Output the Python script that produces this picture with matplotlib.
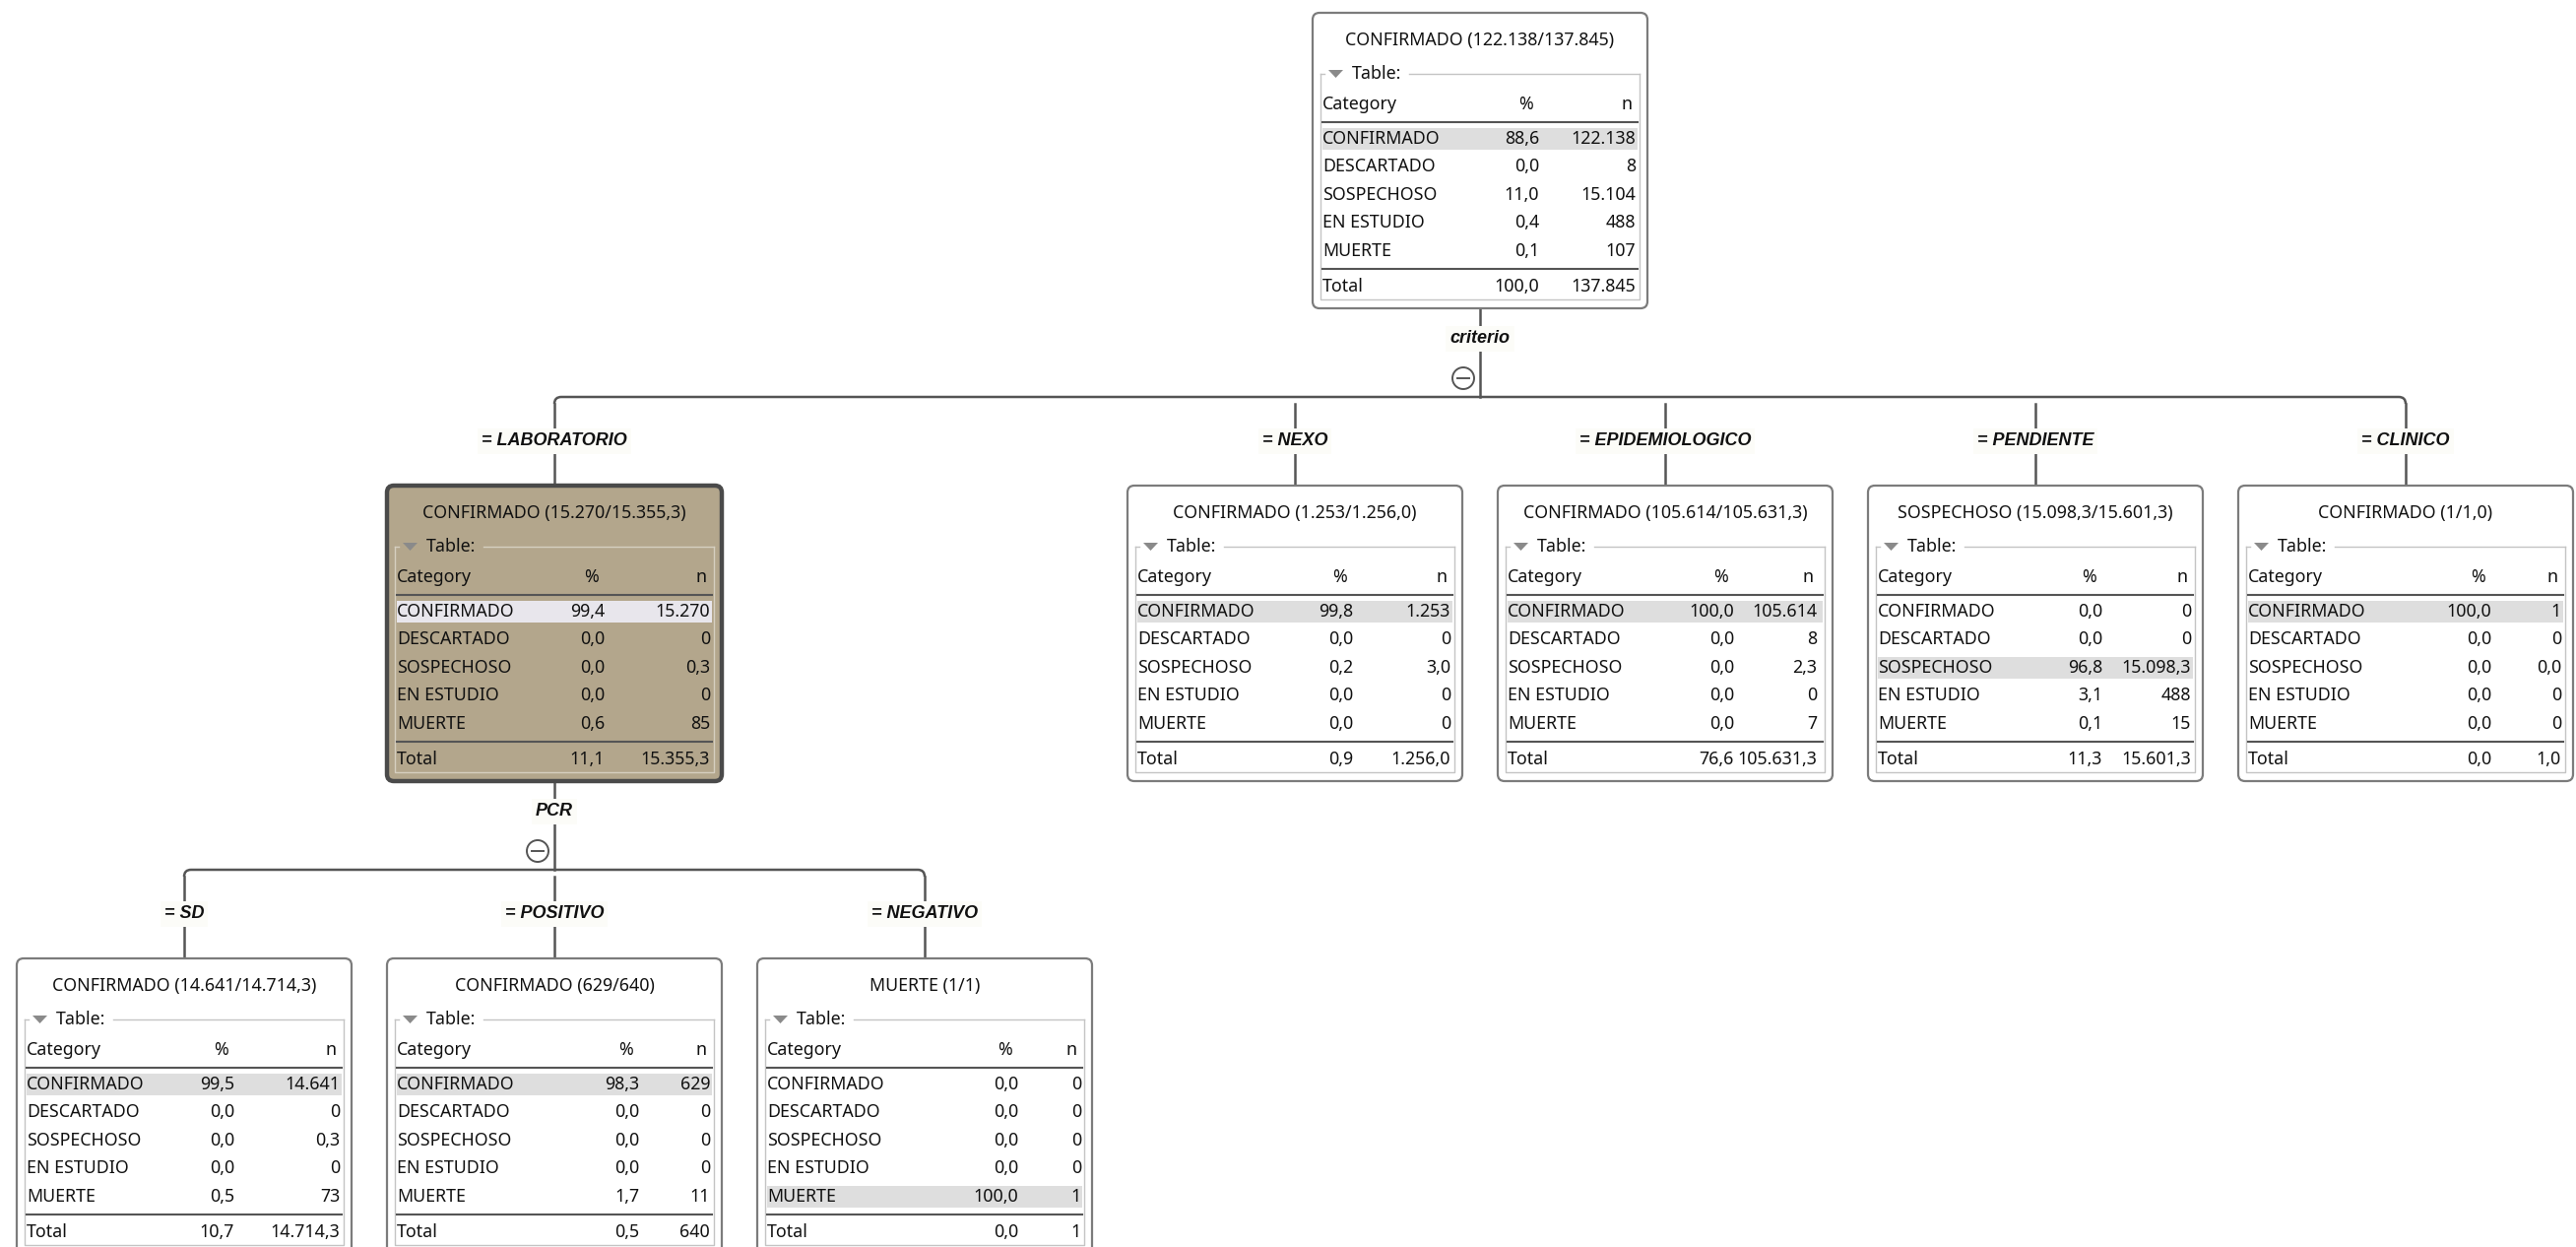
import matplotlib.pyplot as plt
from matplotlib.patches import FancyBboxPatch, Rectangle, Circle, Polygon, PathPatch
from matplotlib.path import Path

# Tree data (KNIME decision tree view)
categories = ['CONFIRMADO', 'DESCARTADO', 'SOSPECHOSO', 'EN ESTUDIO', 'MUERTE']

node_titles = [
    'CONFIRMADO (122.138/137.845)',
    'CONFIRMADO (15.270/15.355,3)',
    'CONFIRMADO (1.253/1.256,0)',
    'CONFIRMADO (105.614/105.631,3)',
    'SOSPECHOSO (15.098,3/15.601,3)',
    'CONFIRMADO (1/1,0)',
    'CONFIRMADO (14.641/14.714,3)',
    'CONFIRMADO (629/640)',
    'MUERTE (1/1)',
]
node_pct = [
    [88.6, 0.0, 11.0, 0.4, 0.1],
    [99.4, 0.0, 0.0, 0.0, 0.6],
    [99.8, 0.0, 0.2, 0.0, 0.0],
    [100.0, 0.0, 0.0, 0.0, 0.0],
    [0.0, 0.0, 96.8, 3.1, 0.1],
    [100.0, 0.0, 0.0, 0.0, 0.0],
    [99.5, 0.0, 0.0, 0.0, 0.5],
    [98.3, 0.0, 0.0, 0.0, 1.7],
    [0.0, 0.0, 0.0, 0.0, 100.0],
]
node_n = [
    ['122.138', '8', '15.104', '488', '107'],
    ['15.270', '0', '0,3', '0', '85'],
    ['1.253', '0', '3,0', '0', '0'],
    ['105.614', '8', '2,3', '0', '7'],
    ['0', '0', '15.098,3', '488', '15'],
    ['1', '0', '0,0', '0', '0'],
    ['14.641', '0', '0,3', '0', '73'],
    ['629', '0', '0', '0', '11'],
    ['0', '0', '0', '0', '1'],
]
total_pct = [100.0, 11.1, 0.9, 76.6, 11.3, 0.0, 10.7, 0.5, 0.0]
total_n = ['137.845', '15.355,3', '1.256,0', '105.631,3', '15.601,3', '1,0', '14.714,3', '640', '1']
majority = [0, 0, 0, 0, 2, 0, 0, 0, 4]

children = {0: [1, 2, 3, 4, 5], 1: [6, 7, 8]}
split_attr = {0: 'criterio', 1: 'PCR'}
edge_labels = {1: '= LABORATORIO', 2: '= NEXO', 3: '= EPIDEMIOLOGICO', 4: '= PENDIENTE',
               5: '= CLINICO', 6: '= SD', 7: '= POSITIVO', 8: '= NEGATIVO'}
selected = 1

# Layout settings
W, H = 2616, 1266
BW, BH = 340, 300
SLOT = 376
X0, Y0 = 187, 13
LEVEL = 480
pct_right = [230, 221, 229, 240, 238, 257, 221, 256, 265]
n_right = [328, 328, 328, 324, 328, 328, 328, 328, 329]
FS = 12.8
FONT = 'Noto Sans'
LABEL_FONT = 'Liberation Sans'
LINE = '#555555'
TXT = '#111111'

xs = {}
tops = {}
slot = [0]


def place(node, depth):
    kids = children.get(node, [])
    for k in kids:
        place(k, depth + 1)
    if kids:
        xs[node] = (xs[kids[0]] + xs[kids[-1]]) / 2
    else:
        xs[node] = X0 + slot[0] * SLOT
        slot[0] += 1
    tops[node] = Y0 + depth * LEVEL


def fmt(v):
    return f'{v:.1f}'.replace('.', ',')


def txt(ax, x, y, s, ha='left'):
    ax.text(x, y, s, ha=ha, va='center', fontsize=FS, family=FONT, color=TXT, zorder=4)


def draw_node(ax, i):
    cx, top = xs[i], tops[i]
    left = cx - BW / 2
    sel = i == selected
    face = '#b3a68c' if sel else 'white'
    edge = '#4a4a4a' if sel else '#7c7c7c'
    frame = '#d6cfc0' if sel else '#c4c4c4'
    ax.add_patch(FancyBboxPatch((left, top), BW, BH, boxstyle='round,pad=0,rounding_size=7',
                                fc=face, ec=edge, lw=3.2 if sel else 1.6, zorder=2))
    txt(ax, cx, top + 28, node_titles[i], ha='center')

    # "Table:" group frame
    fy = top + 62
    ax.plot([left + 8, left + 8, left + BW - 8, left + BW - 8],
            [fy, top + 291, top + 291, fy], color=frame, lw=1, zorder=3)
    ax.plot([left + 8, left + 12], [fy, fy], color=frame, lw=1, zorder=3)
    ax.plot([left + 98, left + BW - 8], [fy, fy], color=frame, lw=1, zorder=3)
    ax.add_patch(Polygon([[left + 16, fy - 4], [left + 31, fy - 4], [left + 23.5, fy + 4]],
                         closed=True, fc='#8a8a8a', ec='none', zorder=4))
    txt(ax, left + 40, fy, 'Table:')

    # header
    hy = top + 93
    txt(ax, left + 10, hy, 'Category')
    txt(ax, left + pct_right[i] - 6, hy, '%', ha='right')
    txt(ax, left + n_right[i] - 4, hy, 'n', ha='right')
    ax.plot([left + 10, left + BW - 10], [top + 111, top + 111], color=LINE, lw=1.5, zorder=4)

    # rows
    for r, cat in enumerate(categories):
        ry = top + 128 + r * 28.4
        if r == majority[i]:
            ax.add_patch(Rectangle((left + 10, ry - 11), BW - 20, 22,
                                   fc='#e8e6ec' if sel else '#dedede', ec='none', zorder=3))
        txt(ax, left + 10, ry, cat)
        txt(ax, left + pct_right[i], ry, fmt(node_pct[i][r]), ha='right')
        txt(ax, left + n_right[i], ry, node_n[i][r], ha='right')

    ax.plot([left + 10, left + BW - 10], [top + 260, top + 260], color=LINE, lw=1.5, zorder=4)
    ty = top + 278
    txt(ax, left + 10, ty, 'Total')
    txt(ax, left + pct_right[i], ty, fmt(total_pct[i]), ha='right')
    txt(ax, left + n_right[i], ty, total_n[i], ha='right')


def label(ax, x, y, s):
    ax.text(x, y, s, ha='center', va='center', fontsize=13, family=LABEL_FONT,
            style='italic', weight='bold', color='#111111', zorder=5,
            bbox=dict(fc='#fcfcf8', ec='none', pad=3))


def draw_split(ax, parent):
    kids = children[parent]
    px = xs[parent]
    bottom = tops[parent] + BH
    bar = bottom + 90
    ax.plot([px, px], [bottom, bar], color=LINE, lw=1.8, zorder=1)
    label(ax, px, bottom + 31, split_attr[parent])
    cy = bottom + 71
    ax.add_patch(Circle((px - 17, cy), 11, fill=False, ec=LINE, lw=1.4, zorder=5))
    ax.plot([px - 23, px - 11], [cy, cy], color=LINE, lw=1.4, zorder=5)

    # horizontal bar with rounded ends
    r = 7
    x1, x2 = xs[kids[0]], xs[kids[-1]]
    verts = [(x1, bar + r), (x1, bar), (x1 + r, bar), (x2 - r, bar), (x2, bar), (x2, bar + r)]
    codes = [Path.MOVETO, Path.CURVE3, Path.CURVE3, Path.LINETO, Path.CURVE3, Path.CURVE3]
    ax.add_patch(PathPatch(Path(verts, codes), fill=False, ec=LINE, lw=1.8, zorder=1))
    for k in kids:
        kx = xs[k]
        ax.plot([kx, kx], [bar + r, tops[k]], color=LINE, lw=1.8, zorder=1)
        label(ax, kx, bar + 45, edge_labels[k])


def main():
    place(0, 0)
    fig = plt.figure(figsize=(W / 100, H / 100), dpi=100)
    ax = fig.add_axes([0, 0, 1, 1])
    ax.set_xlim(0, W)
    ax.set_ylim(H, 0)
    ax.axis('off')

    for p in children:
        draw_split(ax, p)
    for i in range(len(node_titles)):
        draw_node(ax, i)

    fig.savefig('out.png', dpi=100, facecolor='white')


if __name__ == '__main__':
    main()
